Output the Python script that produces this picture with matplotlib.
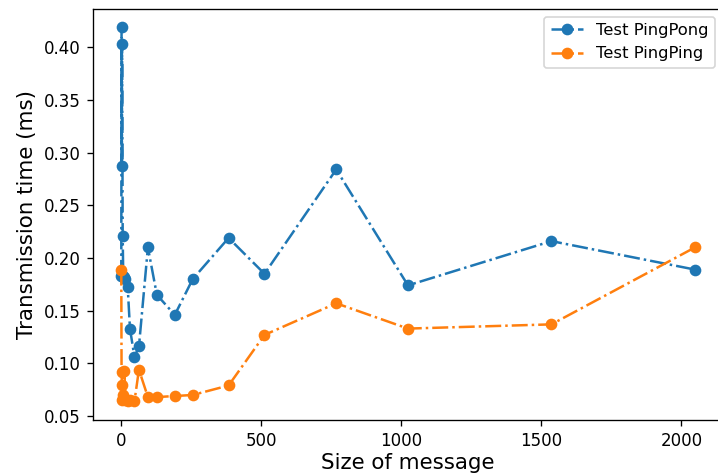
import matplotlib
matplotlib.use("Agg")
import matplotlib.pyplot as plt

# Message sizes (bytes) and measured transmission times (ms)
sizes = [1, 2, 3, 4, 6, 8, 12, 16, 24, 32, 48, 64, 96, 128, 192, 256,
         384, 512, 768, 1024, 1536, 2048]
pingpong = [0.183, 0.419, 0.287, 0.403, 0.221, 0.183, 0.182, 0.180, 0.172,
            0.133, 0.106, 0.116, 0.210, 0.165, 0.146, 0.180, 0.219, 0.185,
            0.284, 0.174, 0.216, 0.189]
pingping = [0.189, 0.092, 0.079, 0.065, 0.066, 0.070, 0.093, 0.065, 0.064,
            0.065, 0.064, 0.094, 0.068, 0.068, 0.069, 0.070, 0.079, 0.127,
            0.157, 0.133, 0.137, 0.210]

fig = plt.figure(figsize=(718 / 120, 474 / 120), dpi=120)
ax = fig.add_axes([92.6 / 718, 54 / 474, 631 / 718, (420 - 8.5) / 474])

ax.plot(sizes, pingpong, "o-.", color="#1f77b4", label="Test PingPong")
ax.plot(sizes, pingping, "o-.", color="#ff7f0e", label="Test PingPing")

ax.set_xlabel("Size of message", fontsize=12.8, labelpad=2)
ax.set_ylabel("Transmission time (ms)", fontsize=12.8)
ax.set_xticks([0, 500, 1000, 1500, 2000])
ax.set_yticks([0.05, 0.10, 0.15, 0.20, 0.25, 0.30, 0.35, 0.40])
ax.spines["right"].set_visible(False)

ax.legend(loc="upper right", fontsize=9.8)

fig.savefig("out.png", dpi=120)
